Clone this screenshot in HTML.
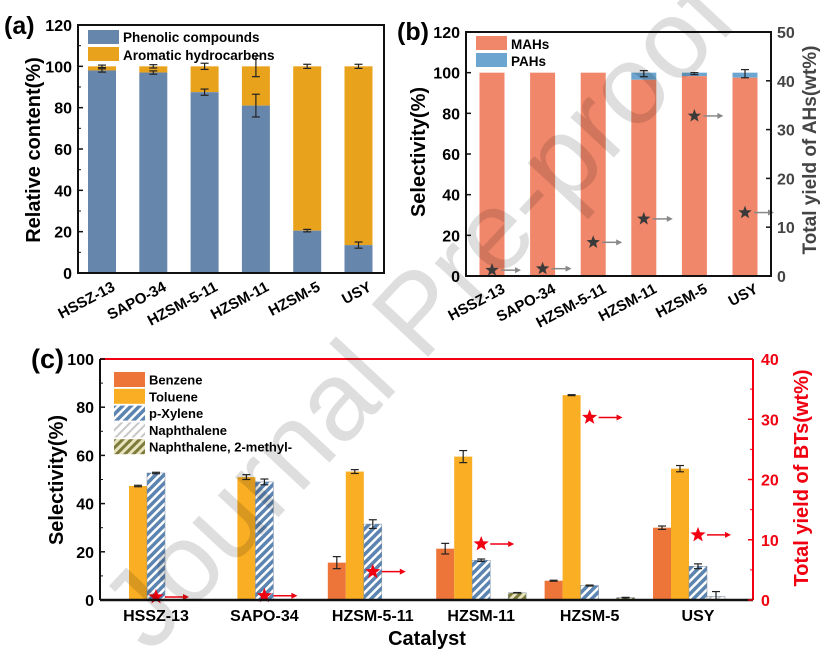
<!DOCTYPE html>
<html><head><meta charset="utf-8"><style>
body{margin:0;background:#fff;width:825px;height:651px;overflow:hidden}
svg{font-family:"Liberation Sans",sans-serif}
</style></head><body>
<svg id="fig" width="825" height="651" viewBox="0 0 825 651" xmlns="http://www.w3.org/2000/svg">
<defs>
<pattern id="hx" patternUnits="userSpaceOnUse" width="6" height="6" patternTransform="rotate(45)"><rect width="6" height="6" fill="#fff"/><rect width="3.5" height="6" fill="#5b84b1"/></pattern>
<pattern id="hn" patternUnits="userSpaceOnUse" width="6" height="6" patternTransform="rotate(45)"><rect width="6" height="6" fill="#fff"/><rect width="2" height="6" fill="#c8c8c8"/></pattern>
<pattern id="hm" patternUnits="userSpaceOnUse" width="6" height="6" patternTransform="rotate(45)"><rect width="6" height="6" fill="#e8e4c0"/><rect width="3" height="6" fill="#7d7a3a"/></pattern>
</defs>
<g id="g"></g>
<text x="0" y="0" transform="translate(150,655) rotate(-47)" font-size="112" fill="#000" fill-opacity="0.13" font-family="Liberation Sans,sans-serif">Journal Pre-proof</text>
</svg>
<script>
const cats=["HSSZ-13","SAPO-34","HZSM-5-11","HZSM-11","HZSM-5","USY"];
const phenolic=[98,97,87.5,81,20.5,13.5];
const phenolicErr=[0.8,0.8,1.5,5.5,0.6,1.5];
const aromaticErr=[0.6,0.8,1.5,5,1,1];
const mahs=[100,100,100,96.5,98.3,97.5];
const pahsErr=[0,0,0,1.5,0.5,2];
const ahYield=[1.2,1.5,6.9,11.7,32.8,13];
const benzene=[0,0,15.5,21.3,8,30];
const benzeneErr=[0,0,2.5,2.2,0.2,0.7];
const toluene=[47.3,51,53.3,59.5,85,54.5];
const tolueneErr=[0.3,1,0.8,2.5,0.2,1.3];
const xylene=[52.7,49,31.5,16.5,6,14];
const xyleneErr=[0.3,1.2,1.8,0.5,0.2,1];
const naph=[0,0,0,0,0,1.5];
const naphErr=[0,0,0,0,0,2];
const mnaph=[0,0,0,3,1,0];
const btYield=[0.5,0.7,4.7,9.3,30.3,10.8];
const ticksA=[0,20,40,60,80,100,120];
const ticksR=[0,10,20,30,40,50];
const ticksC=[0,20,40,60,80,100];
const ticksCR=[0,10,20,30,40];

const NS="http://www.w3.org/2000/svg";
const G=document.getElementById('g');
function el(t,a,p){const e=document.createElementNS(NS,t);for(const k in a)e.setAttribute(k,a[k]);(p||G).appendChild(e);return e;}
function txt(s,a){const e=el('text',a);e.textContent=s;return e;}
function star(cx,cy,r,fill){let p=[];for(let i=0;i<10;i++){const rr=i%2?r*0.42:r;const an=-Math.PI/2+i*Math.PI/5;p.push((cx+rr*Math.cos(an)).toFixed(1)+','+(cy+rr*Math.sin(an)).toFixed(1));}return el('polygon',{points:p.join(' '),fill:fill});}
function errbar(x,y1,y2,w){el('line',{x1:x,x2:x,y1:y1,y2:y2,stroke:'#222','stroke-width':1.2});el('line',{x1:x-w,x2:x+w,y1:y1,y2:y1,stroke:'#222','stroke-width':1.2});el('line',{x1:x-w,x2:x+w,y1:y2,y2:y2,stroke:'#222','stroke-width':1.2});}
function arrow(x,y,len,col){el('line',{x1:x,x2:x+len-5,y1:y,y2:y,stroke:col,'stroke-width':1.5});el('polygon',{points:`${x+len},${y} ${x+len-6},${y-3} ${x+len-6},${y+3}`,fill:col});}

/* ---------- panel a ---------- */
{
const L=78,R=384,T=25,B=273;const ya=v=>B-(B-T)*v/120;const xa=i=>102+i*51.3;const bw=28;
txt('(a)',{x:4,y:34,'font-size':25,'font-weight':'bold'});
cats.forEach((c,i)=>{
 let r=el('rect',{x:xa(i)-bw/2,y:ya(100),width:bw,height:ya(phenolic[i])-ya(100),fill:'#e9a21c'});
 
 r=el('rect',{x:xa(i)-bw/2,y:ya(phenolic[i]),width:bw,height:B-ya(phenolic[i]),fill:'#6786ac'});
 
 errbar(xa(i),ya(phenolic[i]+phenolicErr[i]),ya(phenolic[i]-phenolicErr[i]),4);
 errbar(xa(i),ya(100+aromaticErr[i]),ya(100-aromaticErr[i]),4);
 const t=txt(c,{x:xa(i)+14,y:290,'font-size':15,'font-weight':'bold','text-anchor':'end',transform:`rotate(-28 ${xa(i)+14} 290)`});
 
});
el('rect',{x:L,y:T,width:R-L,height:B-T,fill:'none',stroke:'#111','stroke-width':2});
ticksA.forEach(v=>{el('line',{x1:L,x2:L+5,y1:ya(v),y2:ya(v),stroke:'#111','stroke-width':1.5});
 if(v<120) el('line',{x1:L,x2:L+3,y1:ya(v+10),y2:ya(v+10),stroke:'#111','stroke-width':1});
 const t=txt(v,{x:L-6,y:ya(v)+6,'font-size':16,'font-weight':'bold','text-anchor':'end'});});
const yt=txt('Relative content(%)',{x:0,y:0,'font-size':20,'font-weight':'bold','text-anchor':'middle',transform:'translate(40,150) rotate(-90)'});

el('rect',{x:88,y:30,width:31,height:14,fill:'#6786ac'});txt('Phenolic compounds',{x:123,y:42,'font-size':13.5,'font-weight':'bold'});
el('rect',{x:88,y:47,width:31,height:14,fill:'#e9a21c'});txt('Aromatic hydrocarbens',{x:123,y:60,'font-size':13.5,'font-weight':'bold'});
}
/* ---------- panel b ---------- */
{
const L=466,R=771,T=32,B=276;const yb=v=>B-(B-T)*v/120;const yr=v=>B-(B-T)*v/50;const xb=i=>492+i*50.6;const bw=25;
txt('(b)',{x:397,y:40,'font-size':25,'font-weight':'bold'});
cats.forEach((c,i)=>{
 let r=el('rect',{x:xb(i)-bw/2,y:yb(100),width:bw,height:yb(mahs[i])-yb(100),fill:'#6ba5d0'});
 
 r=el('rect',{x:xb(i)-bw/2,y:yb(mahs[i]),width:bw,height:B-yb(mahs[i]),fill:'#f0876a'});
 
 if(pahsErr[i]>0) errbar(xb(i),yb(100-0.5+pahsErr[i]),yb(100-0.5-pahsErr[i]),4);
 const s=star(xb(i),yr(ahYield[i]),7,'#3a3a3a');
 arrow(xb(i)+9,yr(ahYield[i]),20,'#888');
 const t=txt(c,{x:xb(i)+14,y:292,'font-size':15,'font-weight':'bold','text-anchor':'end',transform:`rotate(-28 ${xb(i)+14} 292)`});
 
});
el('rect',{x:L,y:T,width:R-L,height:B-T,fill:'none',stroke:'#111','stroke-width':2});
ticksA.forEach(v=>{el('line',{x1:L,x2:L+5,y1:yb(v),y2:yb(v),stroke:'#111','stroke-width':1.5});
 txt(v,{x:L-6,y:yb(v)+6,'font-size':16,'font-weight':'bold','text-anchor':'end'});});
ticksR.forEach(v=>{el('line',{x1:R,x2:R-5,y1:yr(v),y2:yr(v),stroke:'#111','stroke-width':1.5});
 txt(v,{x:R+6,y:yr(v)+6,'font-size':16,'font-weight':'bold','fill':'#444'});});
txt('Selectivity(%)',{x:0,y:0,'font-size':20,'font-weight':'bold','text-anchor':'middle',transform:'translate(425,152) rotate(-90)'});
txt('Total yield of AHs(wt%)',{x:0,y:0,'font-size':19,'font-weight':'bold','text-anchor':'middle',fill:'#444',transform:'translate(816,150) rotate(-90)'});
el('rect',{x:476,y:36,width:31,height:14,fill:'#f0876a'});txt('MAHs',{x:511,y:49,'font-size':13.5,'font-weight':'bold'});
el('rect',{x:476,y:53,width:31,height:14,fill:'#6ba5d0'});txt('PAHs',{x:511,y:66,'font-size':13.5,'font-weight':'bold'});
}
/* ---------- panel c ---------- */
{
const L=100,R=753,T=359,B=600;const yc=v=>B-(B-T)*v/100;const yr=v=>B-(B-T)*v/40;const xc=i=>156+i*108.4;const bw=18;
txt('(c)',{x:31,y:368,'font-size':27,'font-weight':'bold'});
const series=[[benzene,benzeneErr,'#ee7539','benzene'],[toluene,tolueneErr,'#f9ae24','toluene'],[xylene,xyleneErr,'url(#hx)','p-xylene'],[naph,naphErr,'url(#hn)','naphthalene'],[mnaph,null,'url(#hm)','methylnaphthalene']];
cats.forEach((c,i)=>{
 series.forEach((s,k)=>{const v=s[0][i];const x=xc(i)+(k-2.5)*bw;
  if(v>0){const r=el('rect',{x:x,y:yc(v),width:bw,height:B-yc(v),fill:s[2],stroke:k>=2?'#7a8aa0':'none','stroke-width':0.5});
   
   const e=s[1]?s[1][i]:0.1;errbar(x+bw/2,yc(v+e),yc(Math.max(0,v-e)),4);}
 });
 const s=star(xc(i),yr(btYield[i]),8,'#f00010');
 arrow(xc(i)+9,yr(btYield[i]),24,'#f00010');
 txt(c,{x:xc(i),y:621,'font-size':16,'font-weight':'bold','text-anchor':'middle'});
});
el('line',{x1:L,x2:R,y1:T,y2:T,stroke:'#f00010','stroke-width':2});
el('line',{x1:R,x2:R,y1:T,y2:B,stroke:'#f00010','stroke-width':2});
el('line',{x1:L,x2:L,y1:T,y2:B,stroke:'#111','stroke-width':2});
el('line',{x1:L,x2:R,y1:B,y2:B,stroke:'#111','stroke-width':2.5});
ticksC.forEach(v=>{el('line',{x1:L,x2:L+5,y1:yc(v),y2:yc(v),stroke:'#111','stroke-width':1.5});
 if(v<100) el('line',{x1:L,x2:L+3,y1:yc(v+10),y2:yc(v+10),stroke:'#111','stroke-width':1});
 txt(v,{x:L-6,y:yc(v)+6,'font-size':16,'font-weight':'bold','text-anchor':'end'});});
ticksCR.forEach(v=>{el('line',{x1:R,x2:R-5,y1:yr(v),y2:yr(v),stroke:'#f00010','stroke-width':1.5});
 if(v<40) el('line',{x1:R,x2:R-3,y1:yr(v+5),y2:yr(v+5),stroke:'#f00010','stroke-width':1});
 txt(v,{x:R+8,y:yr(v)+6,'font-size':16,'font-weight':'bold','fill':'#f00010'});});
txt('Selectivity(%)',{x:0,y:0,'font-size':20,'font-weight':'bold','text-anchor':'middle',transform:'translate(63,480) rotate(-90)'});
txt('Total yield of BTs(wt%)',{x:0,y:0,'font-size':20,'font-weight':'bold','text-anchor':'middle',fill:'#f00010',transform:'translate(808,478) rotate(-90)'});
txt('Catalyst',{x:427,y:645,'font-size':20,'font-weight':'bold','text-anchor':'middle'});
const lg=[['Benzene','#ee7539'],['Toluene','#f9ae24'],['p-Xylene','url(#hx)'],['Naphthalene','url(#hn)'],['Naphthalene, 2-methyl-','url(#hm)']];
lg.forEach((l,k)=>{const y=372+k*16.8;el('rect',{x:114,y:y,width:31,height:15,fill:l[1]});
 const t=txt(l[0],{x:149,y:y+12.5,'font-size':13,'font-weight':'bold'});});
}
</script>
</body></html>
